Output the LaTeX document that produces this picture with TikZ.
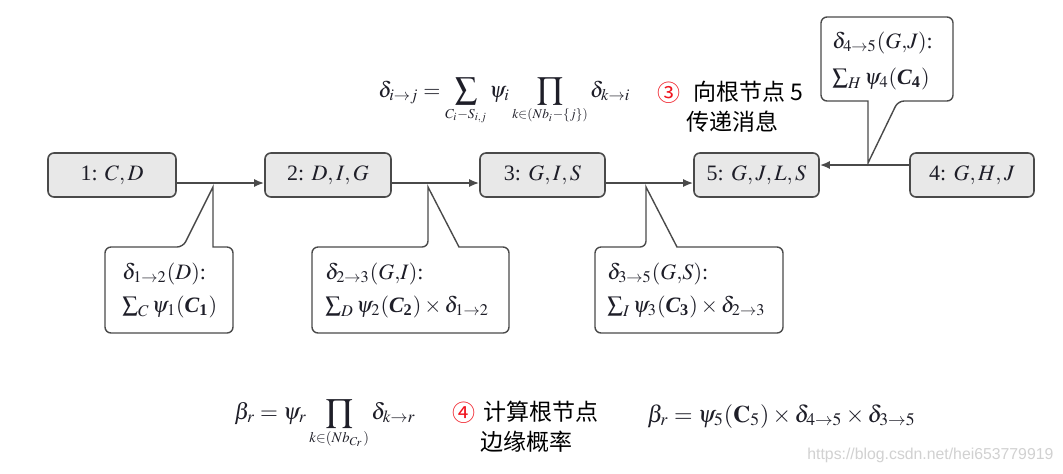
\documentclass[tikz,border=0pt]{standalone}
\usepackage{amsmath}
\usepackage{mathptmx}
\usepackage[no-math]{fontspec}
\setmainfont{Liberation Serif}
\newfontfamily\cjk{Noto Sans CJK SC}
\newfontfamily\wmfont{Liberation Sans}
\usetikzlibrary{arrows.meta}
\definecolor{edge}{HTML}{4A4A4A}
\definecolor{nodefill}{HTML}{E8E8E8}
\definecolor{ink}{HTML}{1E1E28}
\definecolor{circred}{HTML}{F0141E}
\newcommand{\bCi}[1]{\text{\bfseries\itshape C}_{\text{\bfseries #1}}}
\newcommand{\smlim}[2]{\scalebox{#1}{$\scriptstyle #2$}}
\begin{document}
\begin{tikzpicture}[x=0.5pt,y=-0.5pt,
  cluster/.style={draw=edge, fill=nodefill, line width=0.8pt, rounded corners=3pt,
    minimum height=22pt, inner sep=0pt, text=ink, font=\fontsize{11}{13}\selectfont},
  flow/.style={draw=edge, line width=0.9pt, -{Latex[length=5pt,width=4pt]}},
  callout/.style={draw=edge, fill=white, line width=0.7pt},
  lbl/.style={inner sep=0pt, text=ink, font=\fontsize{11}{13}\selectfont},
  zh/.style={inner sep=0pt, anchor=west, font=\cjk\fontsize{11.5}{13}\selectfont},
  circ/.style={zh, text=circred}]
\useasboundingbox[fill=white] (0,0) rectangle (1063,473);

% clusters
\node[cluster, minimum width=64pt]   (n1) at (112,175)   {1: $C,D$};
\node[cluster, minimum width=63pt]   (n2) at (328,175)   {2: $D,I,G$};
\node[cluster, minimum width=62.5pt] (n3) at (542.5,175) {3: $G,I,S$};
\node[cluster, minimum width=62.5pt] (n5) at (756.5,175) {5: $G,J,L,S$};
\node[cluster, minimum width=62pt]   (n4) at (972,175)   {4: $G,H,J$};

\coordinate (ya) at (0,183);
\coordinate (yb) at (0,165);
\draw[flow] (n1.east |- ya) -- (n2.west |- ya);
\draw[flow] (n2.east |- ya) -- (n3.west |- ya);
\draw[flow] (n3.east |- ya) -- (n5.west |- ya);
\draw[flow] (n4.west |- yb) -- (n5.east |- yb);

% callouts
\draw[callout] (183,247) [sharp corners] -- (213,187) -- (213,247) [rounded corners=3pt]
  -- (233,247) -- (233,333) -- (105,333) -- (105,247) -- cycle;
\draw[callout] (428,247) [sharp corners] -- (428,187) -- (459,247) [rounded corners=3pt]
  -- (509,247) -- (509,333) -- (312,333) -- (312,247) -- cycle;
\draw[callout] (646,247) [sharp corners] -- (646,187) -- (677,247) [rounded corners=3pt]
  -- (783,247) -- (783,333) -- (595,333) -- (595,247) -- cycle;
\draw[callout] (898,101) [sharp corners] -- (868,163) -- (868,101) [rounded corners=3pt]
  -- (821,101) -- (821,17) -- (953,17) -- (953,101) -- cycle;

\node[lbl, anchor=base west] (c1a) at (122,279) {$\delta_{1\to2}(D)$:};
\node[lbl, anchor=base west] (c1b) at (122,312) {$\sum_C \psi_1(\bCi{1})$};
\node[lbl, anchor=base west] (c2a) at (325,279) {$\delta_{2\to3}(G{,}I)$:};
\node[lbl, anchor=base west] (c2b) at (325,312) {$\sum_D \psi_2(\bCi{2})\times\delta_{1\to2}$};
\node[lbl, anchor=base west] (c3a) at (607,279) {$\delta_{3\to5}(G{,}S)$:};
\node[lbl, anchor=base west] (c3b) at (607,312) {$\sum_I \psi_3(\bCi{3})\times\delta_{2\to3}$};
\node[lbl, anchor=base west] (c4a) at (832,48) {$\delta_{4\to5}(G{,}J)$:};
\node[lbl, anchor=base west] (c4b) at (832,84) {$\sum_H \psi_4(\bCi{4})$};

% formulas
\node[lbl, anchor=base west] (f1) at (378,97)
  {$\displaystyle \delta_{i\to j} = \sum_{\smlim{0.84}{C_i - S_{i,j}}} \psi_i \prod_{\smlim{0.82}{k\in(Nb_i-\{j\})}} \delta_{k\to i}$};
\node[lbl, anchor=base west, font=\fontsize{11.5}{13}\selectfont] (f2) at (234,419)
  {$\displaystyle \beta_r = \psi_r \prod_{\smlim{0.86}{k\in(Nb_{C_r})}} \delta_{k\to r}$};
\node[lbl, anchor=base west, font=\fontsize{11.9}{14}\selectfont] (f3) at (647,422)
  {$\beta_r = \psi_5(\mathbf{C}_5)\times\delta_{4\to5}\times\delta_{3\to5}$};

% chinese notes
\node[circ] (m3) at (657,93) {③};
\node[zh]   (t3a) at (693,92) {向根节点 5};
\node[zh]   (t3b) at (686,122) {传递消息};
\node[circ] (m4) at (452,413) {④};
\node[zh]   (t4a) at (483,412) {计算根节点};
\node[zh]   (t4b) at (480,442) {边缘概率};

% watermark
\node[inner sep=0pt, anchor=west, text=black!18, font=\wmfont\fontsize{7.9}{9}\selectfont]
  (wm) at (807,455) {https://blog.csdn.net/hei653779919};
\end{tikzpicture}
\end{document}
